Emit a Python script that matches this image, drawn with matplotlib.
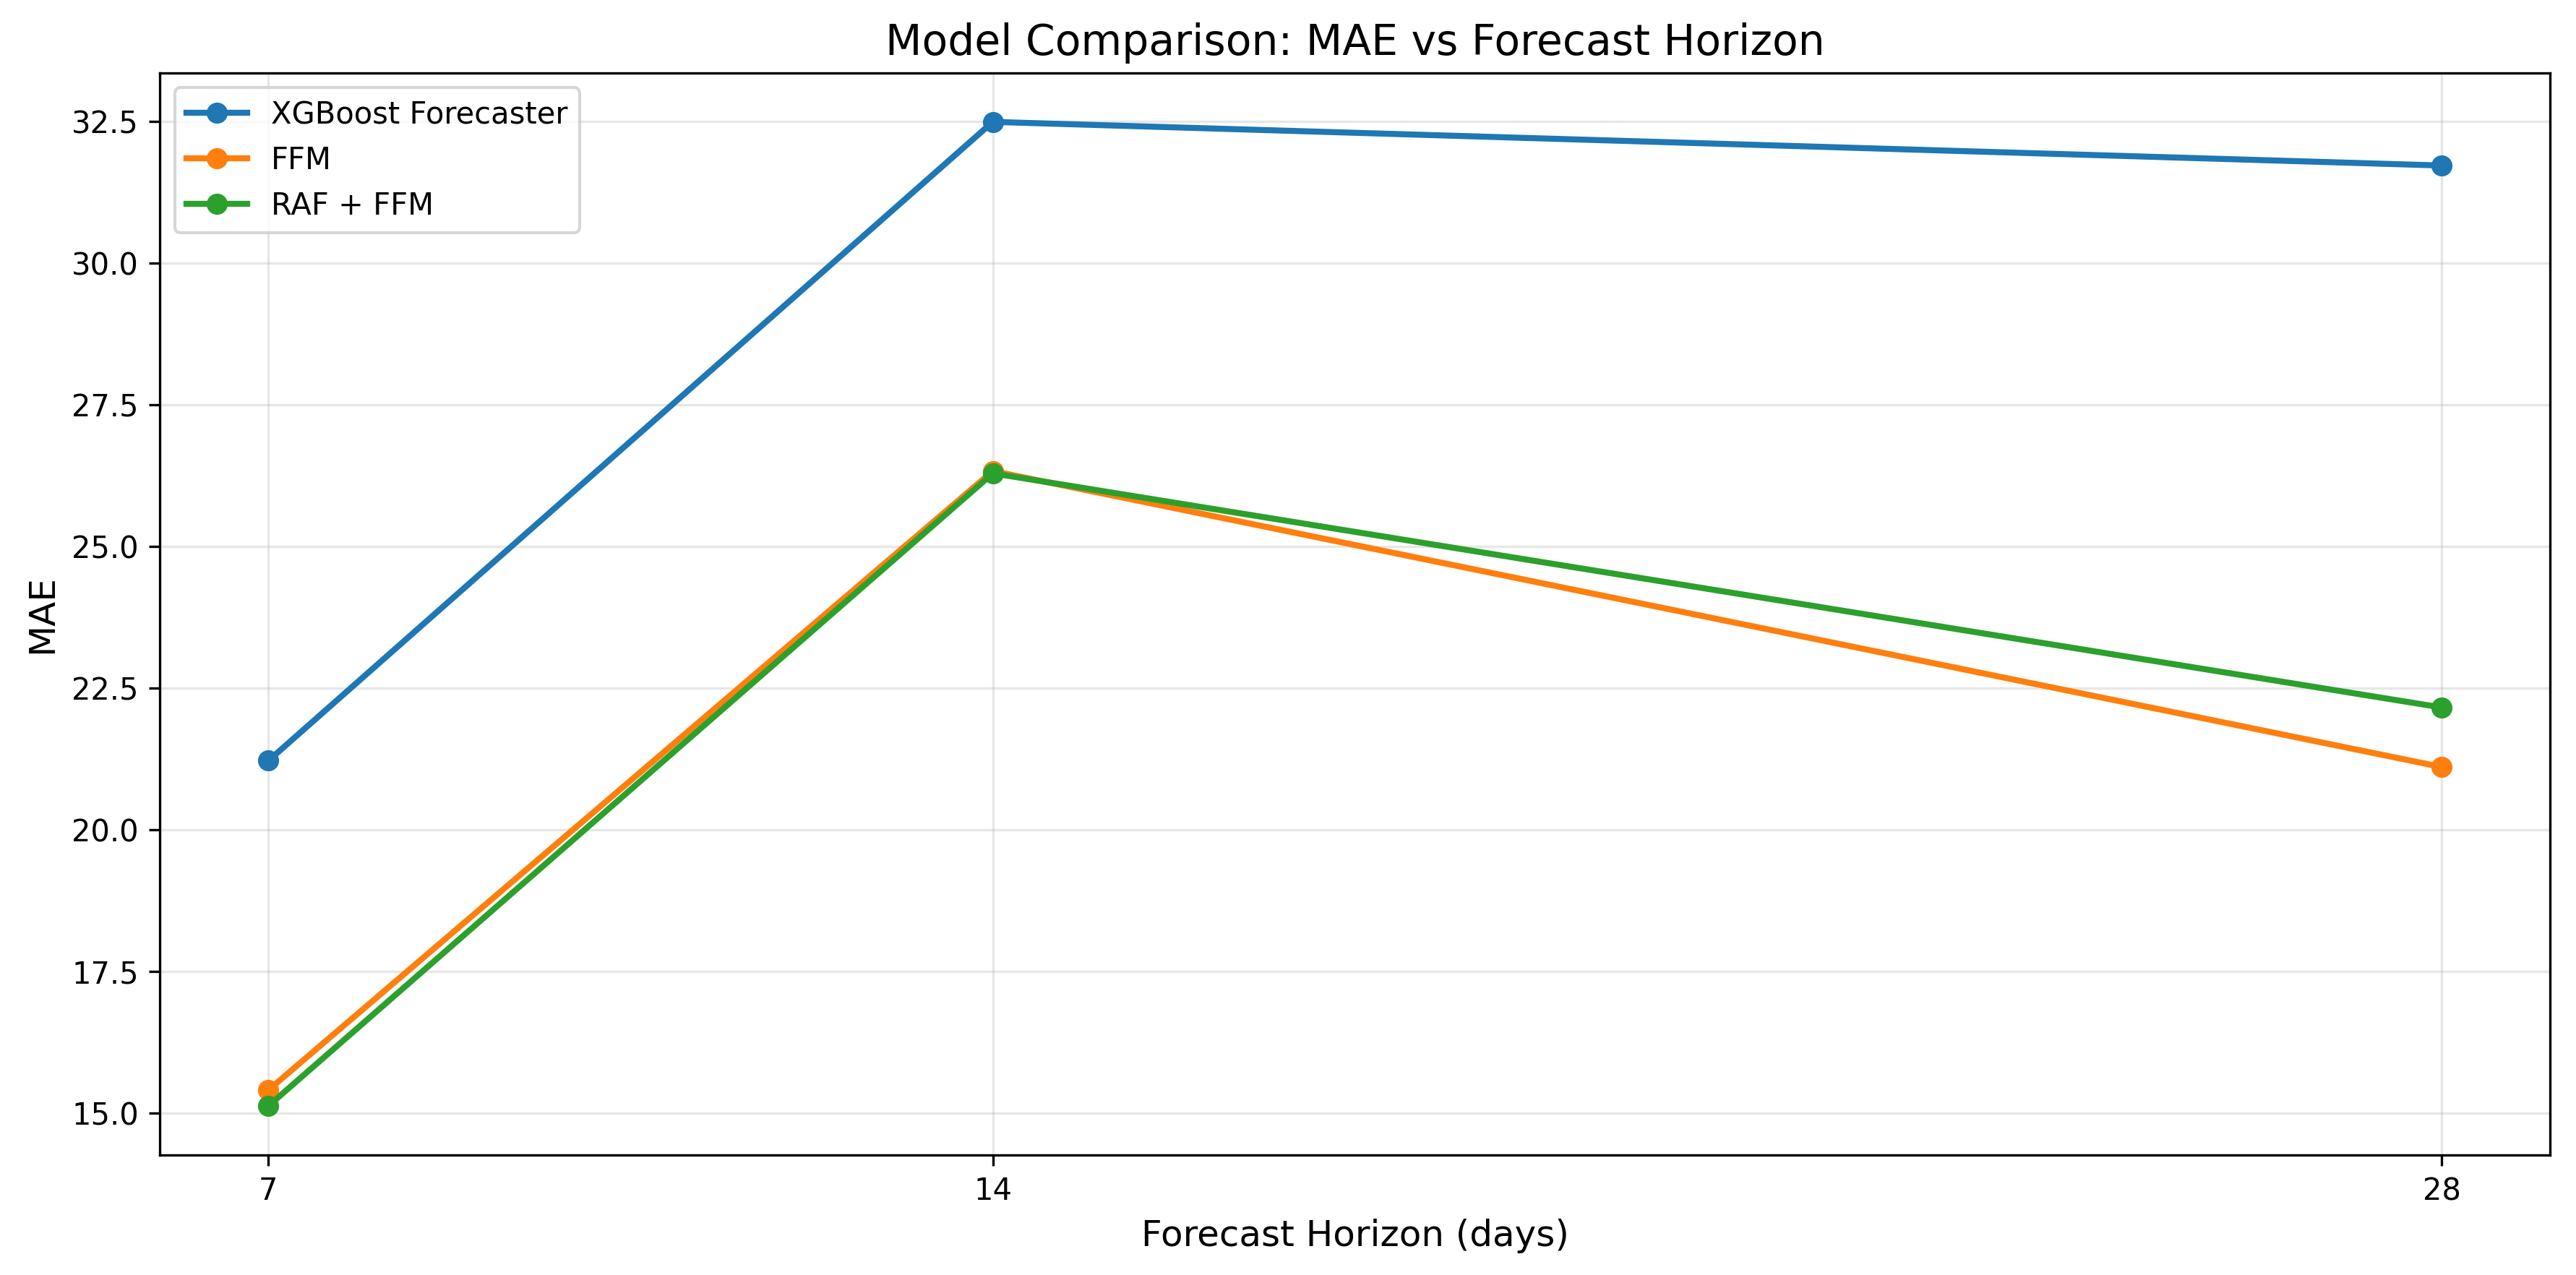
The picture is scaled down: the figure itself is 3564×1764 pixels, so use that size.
import matplotlib
matplotlib.use("Agg")
import matplotlib.pyplot as plt

horizons = [7, 14, 28]
xgb = [21.22, 32.49, 31.72]
ffm = [15.41, 26.33, 21.11]
raf_ffm = [15.13, 26.29, 22.16]

fig, ax = plt.subplots(figsize=(11.88, 5.88), dpi=300)
ax.plot(horizons, xgb, marker='o', linewidth=2, label='XGBoost Forecaster')
ax.plot(horizons, ffm, marker='o', linewidth=2, label='FFM')
ax.plot(horizons, raf_ffm, marker='o', linewidth=2, label='RAF + FFM')
ax.set_xticks(horizons)
ax.set_xlabel('Forecast Horizon (days)', fontsize=12)
ax.set_ylabel('MAE', fontsize=12)
ax.set_title('Model Comparison: MAE vs Forecast Horizon', fontsize=14)
ax.grid(True, alpha=0.3)
ax.legend(loc='upper left')
fig.subplots_adjust(left=0.062, right=0.990, top=0.943, bottom=0.094)
fig.savefig('out.png', dpi=300)
